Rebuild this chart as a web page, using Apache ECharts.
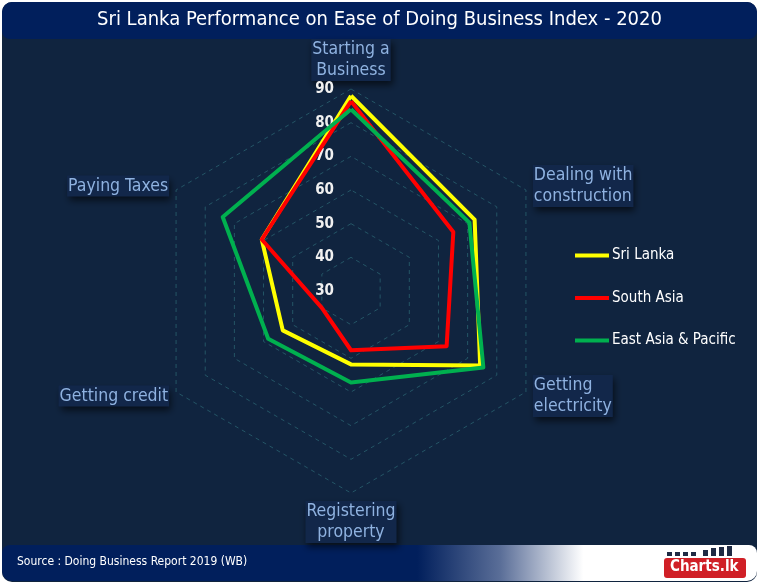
<!DOCTYPE html>
<html>
<head>
<meta charset="utf-8">
<script src="https://cdn.jsdelivr.net/npm/echarts@6/dist/echarts.min.js"></script>
<style>
html,body{margin:0;padding:0;background:#ffffff;}
#chart{width:759px;height:586px;}
</style>
</head>
<body>
<div id="chart"></div>
<script>
// Indicators in ECharts order (counter-clockwise from top)
var indicators = ['Starting a\nBusiness', 'Paying Taxes', 'Getting credit', 'Registering\nproperty', 'Getting\nelectricity', 'Dealing with\nconstruction'];
var seriesNames = ['Sri Lanka', 'South Asia', 'East Asia & Pacific'];
var sriLanka = [88.0, 60.6, 53.4, 51.8, 74.3, 72.4];
var southAsia = [86.4, 60.6, 40.0, 47.6, 62.8, 65.1];
var eastAsiaPacific = [84.0, 74.0, 58.4, 57.2, 75.4, 70.6];
var scaleMin = 30, scaleMax = 90, scaleStep = 10;
var titleText = 'Sri Lanka Performance on Ease of Doing Business Index - 2020';
var sourceText = 'Source : Doing Business Report 2019 (WB)';

var FONT = '"DejaVu Sans Condensed", "DejaVu Sans", sans-serif';
var chart = echarts.init(document.getElementById('chart'));
var colors = ['#ffff00', '#ff0000', '#00b04f'];
var values = [sriLanka, southAsia, eastAsiaPacific];

var option = {
  backgroundColor: '#ffffff',
  textStyle: {fontFamily: FONT},
  graphic: [
    {type:'rect', z:-10, silent:true, shape:{x:2,y:2,width:755,height:580,r:10}, style:{fill:'#10243f'}},
    {type:'rect', z:-9, silent:true, shape:{x:2,y:2,width:755,height:37,r:[10,10,8,8]}, style:{fill:'#011f5c'}},
    {type:'text', z:10, left:'center', top:10, style:{text:titleText, fill:'#ffffff', font:'20px ' + FONT}},
    {type:'rect', z:-9, silent:true, shape:{x:2,y:545,width:755,height:36,r:[8,8,10,10]},
      style:{fill:{type:'linear', x:0, y:0, x2:1, y2:0, colorStops:[
        {offset:0, color:'#011f5c'}, {offset:0.55, color:'#011f5c'}, {offset:0.66, color:'#5a6e98'}, {offset:0.77, color:'#ffffff'}, {offset:1, color:'#ffffff'}]}}},
    {type:'text', z:10, left:17, top:556, style:{text:sourceText, fill:'#ffffff', font:'12px ' + FONT}},
    {type:'rect', z:10, shape:{x:664,y:558,width:82,height:20,r:3}, style:{fill:'#d01f26'}},
    {type:'text', z:11, left:670, top:560, style:{text:'Charts.lk', fill:'#ffffff', font:'bold 15px ' + FONT}},
    {type:'rect', z:10, shape:{x:667,y:552,width:5,height:4}, style:{fill:'#1f2a44'}},
    {type:'rect', z:10, shape:{x:675,y:552,width:5,height:4}, style:{fill:'#1f2a44'}},
    {type:'rect', z:10, shape:{x:683,y:552,width:5,height:4}, style:{fill:'#1f2a44'}},
    {type:'rect', z:10, shape:{x:691,y:552,width:5,height:4}, style:{fill:'#1f2a44'}},
    {type:'rect', z:10, shape:{x:703,y:550,width:5,height:6}, style:{fill:'#1f2a44'}},
    {type:'rect', z:10, shape:{x:711,y:548,width:5,height:8}, style:{fill:'#1f2a44'}},
    {type:'rect', z:10, shape:{x:719,y:547,width:5,height:9}, style:{fill:'#1f2a44'}},
    {type:'rect', z:10, shape:{x:727,y:546,width:5,height:10}, style:{fill:'#1f2a44'}}
  ],
  legend: {
    data: seriesNames,
    orient: 'vertical',
    left: 570,
    top: 243,
    itemWidth: 34,
    itemHeight: 4,
    itemGap: 27.5,
    icon: 'rect',
    textStyle: {color:'#ffffff', fontSize:15, fontFamily: FONT, padding:[0,0,0,-2]}
  },
  radar: {
    center: [351, 291],
    radius: 202,
    startAngle: 90,
    splitNumber: (scaleMax - scaleMin) / scaleStep,
    shape: 'polygon',
    indicator: indicators.map(function(n){ return {name:n, min:scaleMin, max:scaleMax}; }),
    nameGap: 8,
    axisName: {
      color: '#8fb2e0', fontSize: 17.5, fontFamily: FONT, lineHeight: 21,
      backgroundColor: '#12274a', padding: [0, 1],
      shadowColor: 'rgba(0,0,0,0.6)', shadowBlur: 7, shadowOffsetX: 2, shadowOffsetY: 4
    },
    axisLine: {show:false},
    axisTick: {show:false},
    axisLabel: {show:false},
    splitArea: {show:false},
    splitLine: {lineStyle:{color:'#245566', width:1, type:[4,4]}}
  },
  polar: {center:[351, 291], radius: 202},
  angleAxis: {type:'value', min:0, max:360, startAngle:90, show:false},
  radiusAxis: {
    type:'value', min:scaleMin, max:scaleMax, interval:scaleStep,
    axisLine:{show:false}, axisTick:{show:false}, splitLine:{show:false},
    axisLabel:{color:'#f0f0f0', fontWeight:'bold', fontSize:15, margin:17, fontFamily: FONT}
  },
  series: [
    {type:'scatter', coordinateSystem:'polar', data:[], silent:true},
    {
      type: 'radar',
      symbol: 'none',
      z: 5,
      data: seriesNames.map(function(n, i){
        return {name:n, value:values[i], lineStyle:{color:colors[i], width:4}, itemStyle:{color:colors[i]}};
      })
    }
  ]
};
chart.setOption(option);
</script>
</body>
</html>
